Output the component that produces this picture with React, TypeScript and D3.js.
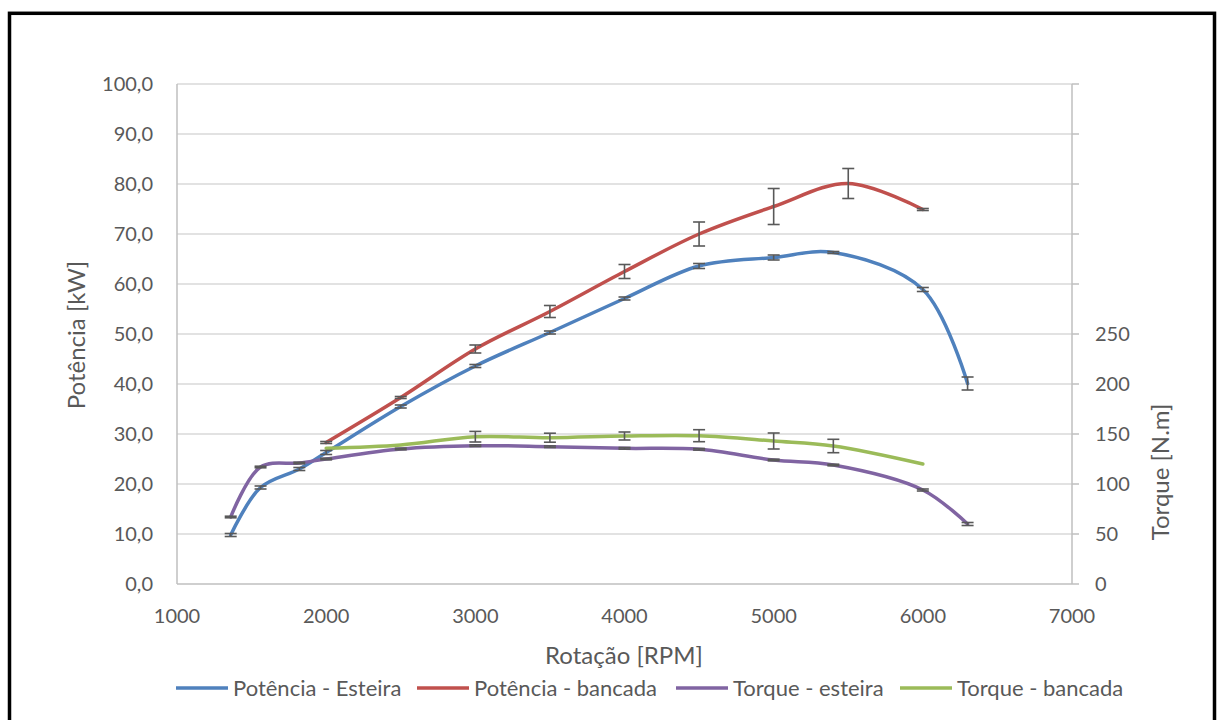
import React from 'react';
import * as d3 from 'd3';

// Potência / torque - esteira (dinamômetro de rolo)
const rpmEsteira = [1360, 1560, 1820, 2000, 2500, 3000, 3500, 4000, 4500, 5000, 5400, 6000, 6300];
const potEsteira = [9.8, 19.3, 23.0, 26.3, 35.5, 43.6, 50.3, 57.1, 63.6, 65.3, 66.3, 58.9, 40.1];
const potEsteiraErr = [0.3, 0.3, 0.3, 0.4, 0.3, 0.3, 0.3, 0.3, 0.5, 0.5, 0.2, 0.4, 1.3];
const torqueEsteira = [67, 117, 121, 125, 135, 138.3, 137.3, 135.7, 134.7, 124, 119, 94, 60];
const torqueEsteiraErr = [0.8, 0.8, 0.8, 0.8, 0.8, 0.8, 0.8, 0.8, 0.8, 0.8, 0.8, 1, 1.5];

// Potência / torque - bancada
const rpmPotBancada = [2000, 2500, 3000, 3500, 4000, 4500, 5000, 5500, 6000];
const potBancada = [28.3, 37.3, 47.0, 54.5, 62.5, 70.0, 75.5, 80.1, 74.9];
const potBancadaErr = [0.2, 0.2, 0.8, 1.2, 1.4, 2.4, 3.6, 3.0, 0.2];
const rpmTorqueBancada = [2000, 2500, 3000, 3500, 4000, 4500, 5000, 5400, 6000];
const torqueBancada = [135.7, 139, 147.3, 146.3, 148, 148.3, 143, 138, 120];
const torqueBancadaErr = [null, null, 5.3, 4.5, 4, 6, 8, 6.7, null];

const xTicks = [1000, 2000, 3000, 4000, 5000, 6000, 7000];
const yTicks = [0, 10, 20, 30, 40, 50, 60, 70, 80, 90, 100];
const y2Ticks = [0, 50, 100, 150, 200, 250, 300, 350, 400, 450, 500];
const y2Labels = [0, 50, 100, 150, 200, 250];

const legendNames = ['Potência - Esteira', 'Potência - bancada', 'Torque - esteira', 'Torque - bancada'];
const colors = ['#4f81bd', '#c0504d', '#8064a2', '#9bbb59'];

const W = 1219;
const H = 720;
const FONT = 'Lato, "Open Sans", sans-serif';
const TXT = '#595959';

export default function App() {
  const x = d3.scaleLinear().domain([1000, 7000]).range([177, 1072]);
  const y = d3.scaleLinear().domain([0, 100]).range([584, 84]);
  const y2 = d3.scaleLinear().domain([0, 500]).range([584, 84]);

  const series = [
    { xs: rpmEsteira, ys: potEsteira, err: potEsteiraErr, sc: y, color: colors[0] },
    { xs: rpmPotBancada, ys: potBancada, err: potBancadaErr, sc: y, color: colors[1] },
    { xs: rpmEsteira, ys: torqueEsteira, err: torqueEsteiraErr, sc: y2, color: colors[2] },
    { xs: rpmTorqueBancada, ys: torqueBancada, err: torqueBancadaErr, sc: y2, color: colors[3] },
  ];

  const fmt = (v: number) => v.toFixed(1).replace('.', ',');

  // x positions of legend items (line start)
  const legendX = [176, 417, 676, 900];

  return (
    <div style={{ position: 'absolute', left: 0, top: 0 }}>
      <svg width={W} height={H} style={{ display: 'block', background: '#fff' }}>
        <rect x={9.5} y={13.3} width={1205} height={H} fill="#fff" stroke="#000" strokeWidth={3.5} />

        {/* gridlines */}
        {yTicks.slice(1).map(t => (
          <line key={'g' + t} x1={x(1000)} x2={x(7000)} y1={y(t)} y2={y(t)} stroke="#d9d9d9" strokeWidth={1.5} />
        ))}

        {/* axes */}
        <line x1={x(1000)} x2={x(7000)} y1={y(0)} y2={y(0)} stroke="#bfbfbf" strokeWidth={1.5} />
        <line x1={x(1000)} x2={x(1000)} y1={y(0)} y2={y(100)} stroke="#bfbfbf" strokeWidth={1.5} />
        <line x1={x(7000)} x2={x(7000)} y1={y2(0)} y2={y2(500)} stroke="#bfbfbf" strokeWidth={1.5} />
        {y2Ticks.map(t => (
          <line key={'t' + t} x1={x(7000)} x2={x(7000) + 7} y1={y2(t)} y2={y2(t)} stroke="#bfbfbf" strokeWidth={1.5} />
        ))}

        {/* tick labels */}
        <g fontFamily={FONT} fontSize={20} fill={TXT}>
          {yTicks.map(t => (
            <text key={'yl' + t} x={153} y={y(t)} dy="0.35em" textAnchor="end">{fmt(t)}</text>
          ))}
          {y2Labels.map(t => (
            <text key={'y2l' + t} x={1095} y={y2(t)} dy="0.35em" textAnchor="start">{t}</text>
          ))}
          {xTicks.map(t => (
            <text key={'xl' + t} x={x(t)} y={616} dy="0.35em" textAnchor="middle">{t}</text>
          ))}
        </g>

        {/* axis titles */}
        <g fontFamily={FONT} fontSize={24} fill={TXT}>
          <text x={624} y={656} dy="0.35em" textAnchor="middle">Rotação [RPM]</text>
          <text transform="translate(77,335) rotate(-90)" dy="0.35em" textAnchor="middle">Potência [kW]</text>
          <text transform="translate(1161,472) rotate(-90)" dy="0.35em" textAnchor="middle">Torque [N.m]</text>
        </g>

        {/* lines */}
        {series.map((s, i) => {
          const pts = s.xs.map((v, j) => [x(v), s.sc(s.ys[j])] as [number, number]);
          const path = d3.line().curve(d3.curveCatmullRom.alpha(0.5))(pts) || '';
          return <path key={'l' + i} d={path} fill="none" stroke={s.color} strokeWidth={3.5} strokeLinecap="round" />;
        })}

        {/* error bars */}
        {series.map((s, i) => (
          <g key={'e' + i} stroke="#595959" strokeWidth={1.6}>
            {s.xs.map((v, j) => {
              const e = s.err[j];
              if (e == null) return null;
              const cx = x(v);
              const top = s.sc(s.ys[j] + e);
              const bot = s.sc(s.ys[j] - e);
              return (
                <g key={j}>
                  <line x1={cx} x2={cx} y1={top} y2={bot} />
                  <line x1={cx - 6} x2={cx + 6} y1={top} y2={top} />
                  <line x1={cx - 6} x2={cx + 6} y1={bot} y2={bot} />
                </g>
              );
            })}
          </g>
        ))}

        {/* legend */}
        <g fontFamily={FONT} fontSize={22} fill={TXT}>
          {legendNames.map((n, i) => (
            <g key={n}>
              <line x1={legendX[i]} x2={legendX[i] + 52} y1={688} y2={688} stroke={colors[i]} strokeWidth={3.5} />
              <text x={legendX[i] + 57} y={688} dy="0.35em">{n}</text>
            </g>
          ))}
        </g>
      </svg>
    </div>
  );
}
